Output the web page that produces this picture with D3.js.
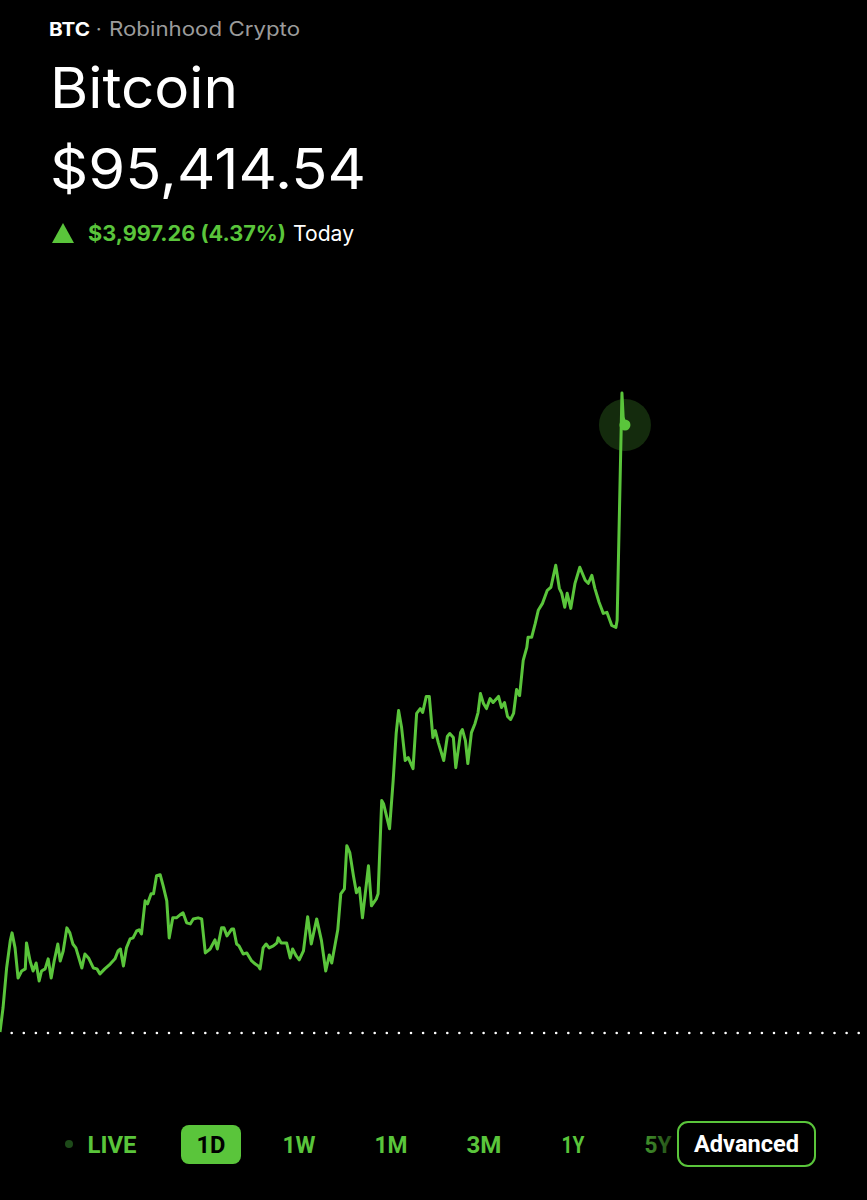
<!DOCTYPE html>
<html>
<head>
<meta charset="utf-8">
<title>Bitcoin</title>
<script src="https://cdn.jsdelivr.net/npm/d3@7"></script>
<style>
  body { margin: 0; background: #000; }
  .head { font-family: Inter, "Liberation Sans", sans-serif; }
  .btn { font-family: "Liberation Sans Narrow", Roboto, sans-serif; font-weight: bold; font-size: 24px; text-anchor: middle; }
</style>
</head>
<body>
<div id="chart"></div>
<script>
// 1D price series (minutes since chart start, USD)
var minutes = [0,5,11,17,20,25,30,36,42,44,50,55,60,65,69,75,80,85,90,96,
  100,105,111,116,121,126,136,141,147,155,161,166,174,183,191,196,200,205,210,216,
  221,227,231,235,241,245,251,255,260,266,271,277,281,287,293,299,304,310,316,321,
  329,335,341,349,357,361,368,372,377,385,388,393,397,404,410,418,424,429,432,437,
  442,447,454,460,462,467,476,482,486,492,497,504,511,517,526,534,541,547,551,561,
  566,572,576,581,587,592,597,602,612,617,625,628,634,637,647,653,658,662,667,673,
  678,686,692,698,702,708,713,719,723,728,737,743,747,753,757,765,768,773,777,783,
  789,794,798,803,808,814,819,828,833,838,843,848,853,858,863,869,875,877,883,889,
  894,901,909,915,923,929,933,938,942,948,955,963,972,977,983,988,995,1002,1008,1016,
  1023,1025,1033,1035,1038];
var prices = [91417,91575,91839,92017,92070,91971,91773,91819,91833,92004,
  91885,91819,91872,91753,91819,91833,91899,91773,91885,91997,
  91885,91951,92103,92070,91997,91971,91839,91931,91905,91839,
  91833,91800,91833,91865,91899,91951,91964,91852,91971,92030,
  92037,92083,92090,92063,92281,92261,92327,92327,92446,92453,
  92380,92281,92037,92169,92169,92189,92202,92136,92129,92162,
  92169,92162,91938,91964,92024,91964,92103,92103,92050,92096,
  92096,91997,91984,91931,91938,91885,91865,91852,91833,91971,
  91997,91971,91984,92004,92037,92004,92004,91905,91964,91918,
  91892,91951,92176,91997,92162,92017,91819,91925,91872,92090,
  92327,92360,92644,92598,92446,92334,92367,92169,92512,92248,
  92294,92327,92941,92921,92756,93073,93383,93534,93422,93205,
  93224,93152,93515,93547,93521,93627,93627,93356,93402,93323,
  93205,93363,93383,93356,93158,93389,93409,93336,93185,93389,
  93449,93521,93646,93580,93547,93613,93587,93627,93554,93587,
  93495,93475,93515,93673,93633,93864,93950,94016,94016,94108,
  94194,94240,94326,94346,94491,94339,94306,94214,94306,94207,
  94372,94478,94392,94372,94425,94339,94247,94174,94181,94095,
  94082,94128,95625,95467,95414.54];
var prevClose = 91417.28;
var lastPrice = 95414.54;
var changeText = "$3,997.26 (4.37%)";
var ranges = ["LIVE", "1D", "1W", "1M", "3M", "1Y", "5Y"];
var activeRange = "1D";

var w = 867, h = 1200;
var green = "#5ac53b";

var svg = d3.select("#chart").append("svg")
  .attr("width", w).attr("height", h)
  .style("background", "#000").style("display", "block");

// header
svg.append("text").attr("class", "head").attr("x", 49).attr("y", 36)
  .attr("font-size", 19).attr("font-weight", "bold").attr("fill", "#fff")
  .attr("textLength", 41).attr("lengthAdjust", "spacingAndGlyphs").text("BTC");
svg.append("text").attr("class", "head").attr("x", 96).attr("y", 36)
  .attr("font-size", 19).attr("fill", "#9b9b9b").text("·");
svg.append("text").attr("class", "head").attr("x", 109).attr("y", 36)
  .attr("font-size", 20).attr("fill", "#9b9b9b")
  .attr("textLength", 191).attr("lengthAdjust", "spacingAndGlyphs").text("Robinhood Crypto");

svg.append("text").attr("class", "head").attr("x", 50).attr("y", 108)
  .attr("font-size", 56).attr("fill", "#fff")
  .attr("textLength", 188).attr("lengthAdjust", "spacingAndGlyphs").text("Bitcoin");
svg.append("text").attr("class", "head").attr("x", 50).attr("y", 189)
  .attr("font-size", 56).attr("fill", "#fff")
  .attr("textLength", 316).attr("lengthAdjust", "spacingAndGlyphs")
  .text("$" + d3.format(",.2f")(lastPrice));

svg.append("path").attr("d", "M52,243L74,243L63,223Z").attr("fill", green);
svg.append("text").attr("class", "head").attr("x", 88).attr("y", 241)
  .attr("font-size", 21).attr("font-weight", "bold").attr("fill", green)
  .attr("textLength", 198).attr("lengthAdjust", "spacingAndGlyphs").text(changeText);
svg.append("text").attr("class", "head").attr("x", 293).attr("y", 241)
  .attr("font-size", 21).attr("fill", "#fff")
  .attr("textLength", 61).attr("lengthAdjust", "spacingAndGlyphs").text("Today");

// scales
var x = d3.scaleLinear().domain([0, 1440]).range([0, w]);
var y = d3.scaleLinear().domain([prevClose, lastPrice]).range([1032, 425]);

// previous close, dotted
svg.append("line")
  .attr("x1", 11.7).attr("x2", w)
  .attr("y1", y(prevClose) + 1).attr("y2", y(prevClose) + 1)
  .attr("stroke", "#fff").attr("stroke-width", 2.6)
  .attr("stroke-linecap", "round").attr("stroke-dasharray", "0 12.1");

var line = d3.line()
  .x(function(d, i) { return x(minutes[i]); })
  .y(function(d) { return y(d); });

svg.append("path").datum(prices)
  .attr("d", line)
  .attr("fill", "none").attr("stroke", green)
  .attr("stroke-width", 3).attr("stroke-linejoin", "round");

var n = prices.length - 1;
svg.append("circle").attr("cx", x(minutes[n])).attr("cy", y(prices[n]))
  .attr("r", 26).attr("fill", green).attr("fill-opacity", 0.22);
svg.append("circle").attr("cx", x(minutes[n])).attr("cy", y(prices[n]))
  .attr("r", 5.5).attr("fill", green);

// range buttons
var centers = [112, 211, 299, 391, 484, 573, 658];
var widths = [49, 29, 33, 33, 35, 23, 27];

var grad = svg.append("defs").append("linearGradient").attr("id", "fade")
  .attr("gradientUnits", "userSpaceOnUse").attr("x1", 644).attr("x2", 678);
grad.append("stop").attr("offset", 0).attr("stop-color", green).attr("stop-opacity", 0.75);
grad.append("stop").attr("offset", 1).attr("stop-color", green).attr("stop-opacity", 0.3);

svg.append("circle").attr("cx", 69).attr("cy", 1144).attr("r", 4).attr("fill", "#1d4a19");
svg.append("rect").attr("x", 181).attr("y", 1125).attr("width", 60).attr("height", 39)
  .attr("rx", 8).attr("fill", green);

svg.selectAll(".btn").data(ranges).enter().append("text")
  .attr("class", "btn")
  .attr("x", function(d, i) { return centers[i]; })
  .attr("y", 1153)
  .attr("textLength", function(d, i) { return widths[i]; })
  .attr("lengthAdjust", "spacingAndGlyphs")
  .attr("fill", function(d) { return d == activeRange ? "#000" : (d == "5Y" ? "url(#fade)" : green); })
  .text(function(d) { return d; });

svg.append("rect").attr("x", 678).attr("y", 1122).attr("width", 137).attr("height", 44)
  .attr("rx", 10).attr("fill", "#000").attr("stroke", green).attr("stroke-width", 2);
svg.append("text").attr("class", "btn").attr("x", 746.5).attr("y", 1152)
  .attr("font-size", 21).attr("fill", "#fff")
  .attr("textLength", 105).attr("lengthAdjust", "spacingAndGlyphs").text("Advanced");
</script>
</body>
</html>
